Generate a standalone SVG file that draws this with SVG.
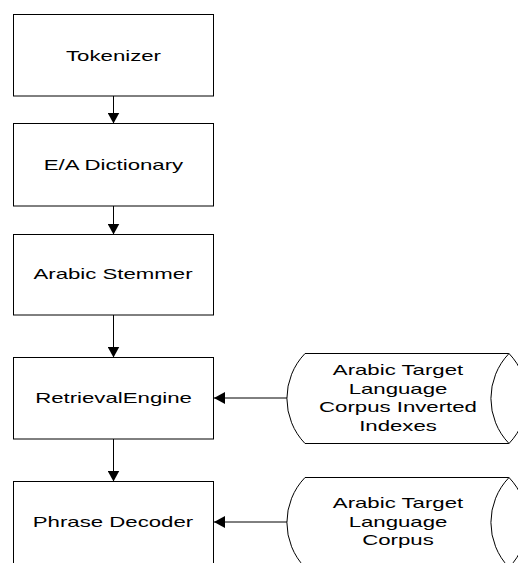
<svg xmlns="http://www.w3.org/2000/svg" width="518" height="563" viewBox="0 0 518 563">
  <style>
    .box { fill: #fff; stroke: #000; stroke-width: 1; }
    .store { fill: #fff; stroke: #000; stroke-width: 1; }
    .lbl { font-family: "Liberation Sans", Arial, sans-serif; font-size: 15px; fill: #000; text-anchor: middle; }
    .edge { fill: none; stroke: #000; stroke-width: 1; marker-end: url(#head); }
  </style>
  <defs>
    <marker id="head" markerUnits="userSpaceOnUse" markerWidth="11" markerHeight="12" viewBox="0 0 11 12" refX="11" refY="6" orient="auto">
      <path d="M0,0 L11,6 L0,12 Z" fill="#000"/>
    </marker>
  </defs>
  <rect width="518" height="563" fill="#fff"/>

  <!-- labels use a wide face: glyphs stretched horizontally by 1.48 -->
  <g id="tokenizer">
    <rect class="box" x="13.5" y="14.5" width="200" height="81.5"/>
    <text class="lbl" transform="translate(113.5,60.5) scale(1.48,1)">Tokenizer</text>
  </g>

  <g id="dictionary">
    <rect class="box" x="13.5" y="123.5" width="200" height="82.5"/>
    <text class="lbl" transform="translate(113.5,170) scale(1.48,1)">E/A Dictionary</text>
  </g>

  <g id="stemmer">
    <rect class="box" x="13.5" y="234.5" width="200" height="80.5"/>
    <text class="lbl" transform="translate(113,279) scale(1.48,1)">Arabic Stemmer</text>
  </g>

  <g id="retrieval">
    <rect class="box" x="13.5" y="357.5" width="200" height="81.5"/>
    <text class="lbl" transform="translate(113.5,403) scale(1.48,1)">RetrievalEngine</text>
  </g>

  <g id="decoder">
    <rect class="box" x="13.5" y="481.5" width="200" height="100"/>
    <text class="lbl" transform="translate(113,527) scale(1.48,1)">Phrase Decoder</text>
  </g>

  <g id="index-store">
    <path class="store" d="M305,353.5 H509 A65,65 0 0 1 509,443.5 H305 A65,65 0 0 1 305,353.5 Z"/>
    <path class="store" d="M509,353.5 A65,65 0 0 0 509,443.5"/>
    <g transform="translate(398,0) scale(1.48,1)">
      <text class="lbl" x="0" y="375.5">Arabic Target</text>
      <text class="lbl" x="0" y="394">Language</text>
      <text class="lbl" x="0" y="412.5">Corpus Inverted</text>
      <text class="lbl" x="0" y="431">Indexes</text>
    </g>
  </g>

  <g id="corpus-store">
    <path class="store" d="M305,477.5 H509 A65,65 0 0 1 509,567.5 H305 A65,65 0 0 1 305,477.5 Z"/>
    <path class="store" d="M509,477.5 A65,65 0 0 0 509,567.5"/>
    <g transform="translate(398,0) scale(1.48,1)">
      <text class="lbl" x="0" y="508.5">Arabic Target</text>
      <text class="lbl" x="0" y="527">Language</text>
      <text class="lbl" x="0" y="545.5">Corpus</text>
    </g>
  </g>

  <g id="connectors">
    <path class="edge" d="M113.5,96 V123.5"/>
    <path class="edge" d="M113.5,206 V234.5"/>
    <path class="edge" d="M113.5,315 V357.5"/>
    <path class="edge" d="M113.5,439 V481.5"/>
    <path class="edge" d="M287,398 H214"/>
    <path class="edge" d="M287,522 H214"/>
  </g>
</svg>
